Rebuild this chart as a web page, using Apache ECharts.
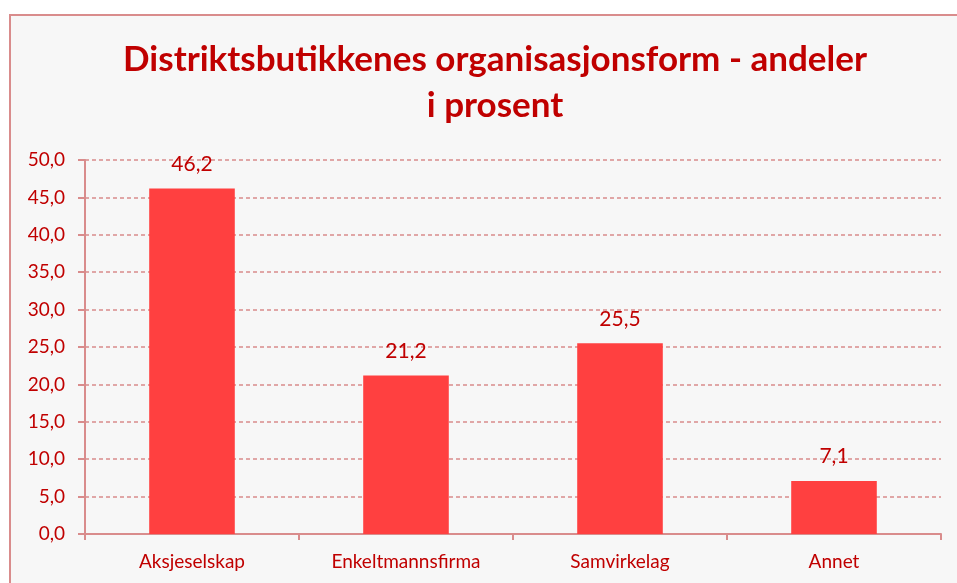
<!DOCTYPE html>
<html>
<head>
<meta charset="utf-8">
<script src="https://cdn.jsdelivr.net/npm/echarts@6/dist/echarts.min.js"></script>
<style>
  html, body { margin: 0; padding: 0; background: #fff; }
  #container { width: 957px; height: 583px; }
</style>
</head>
<body>
<div id="container"></div>
<script>
var categories = ['Aksjeselskap', 'Enkeltmannsfirma', 'Samvirkelag', 'Annet'];
var andeler = [46.2, 21.2, 25.5, 7.1];
var titleText = 'Distriktsbutikkenes organisasjonsform - andeler\ni prosent';

var dom = document.getElementById('container');
var myChart = echarts.init(dom);
var darkRed = '#C00000';
var lineColor = '#D98C8C';

function komma(v, d) {
    return v.toFixed(d).replace('.', ',');
}

var option = {
    backgroundColor: '#fff',
    textStyle: { fontFamily: 'Lato' },
    graphic: [{
        type: 'rect',
        z: -10,
        shape: { x: 10, y: 15, width: 1000, height: 620 },
        style: { fill: '#F7F7F7', stroke: lineColor, lineWidth: 2 }
    }],
    title: {
        text: titleText,
        left: 490,
        top: 32,
        textAlign: 'center',
        textStyle: {
            fontFamily: 'Lato',
            fontWeight: 'bold',
            fontSize: 35,
            lineHeight: 46,
            color: darkRed
        }
    },
    grid: {
        left: 85,
        right: 16,
        top: 160,
        bottom: 49
    },
    xAxis: {
        type: 'category',
        data: categories,
        axisLine: { lineStyle: { color: lineColor, width: 2 } },
        axisTick: { show: true, length: 6, lineStyle: { color: lineColor, width: 2 } },
        axisLabel: { color: darkRed, fontSize: 19, margin: 18 }
    },
    yAxis: {
        type: 'value',
        min: 0,
        max: 50,
        interval: 5,
        axisLine: { show: true, lineStyle: { color: lineColor, width: 2 } },
        axisTick: { show: true, length: 7, lineStyle: { color: lineColor, width: 2 } },
        axisLabel: {
            color: darkRed,
            fontSize: 19,
            margin: 20,
            formatter: function (v) { return komma(v, 1); }
        },
        splitLine: { lineStyle: { color: lineColor, type: [4, 3], width: 1.5 } }
    },
    series: [{
        name: 'andel',
        type: 'bar',
        data: andeler,
        barWidth: '40%',
        itemStyle: { color: '#FF4040' },
        label: {
            show: true,
            position: 'top',
            distance: 14,
            color: darkRed,
            fontSize: 21,
            formatter: function (p) { return komma(p.value, 1); }
        }
    }]
};

if (option && typeof option === 'object') {
    myChart.setOption(option);
}
</script>
</body>
</html>
